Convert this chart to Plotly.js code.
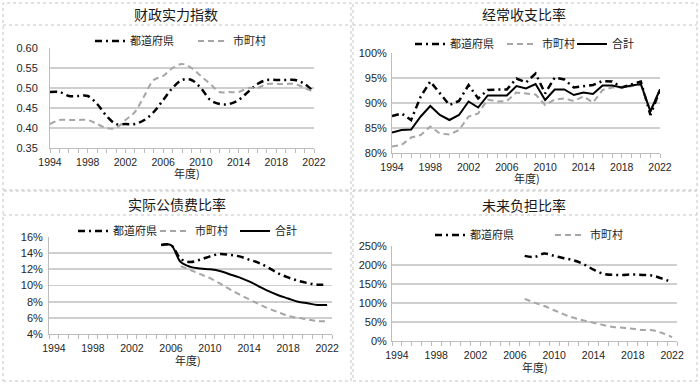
<!DOCTYPE html>
<html>
<head>
<meta charset="utf-8">
<script src="https://cdn.plot.ly/plotly-3.0.1.min.js"></script>
<style>html,body{margin:0;padding:0;background:#fff;}#chart{width:700px;height:385px;}</style>
</head>
<body>
<div id="chart"></div>
<script>
// ---- data ----
var years = [1994,1995,1996,1997,1998,1999,2000,2001,2002,2003,2004,2005,2006,2007,2008,2009,2010,2011,2012,2013,2014,2015,2016,2017,2018,2019,2020,2021,2022];
var tickYears = [1994,1998,2002,2006,2010,2014,2018,2022];
var seriesNames = ['都道府県','市町村','合計'];
var panelTitles = ['财政实力指数','经常收支比率','实际公债费比率','未来负担比率'];
var xTitle = '年度)';

// 财政实力指数
var fiPref = [0.49,0.49,0.48,0.48,0.48,0.46,0.43,0.41,0.41,0.41,0.42,0.44,0.47,0.50,0.52,0.52,0.50,0.47,0.46,0.46,0.47,0.49,0.51,0.52,0.52,0.52,0.52,0.51,0.49];
var fiMuni = [0.41,0.42,0.42,0.42,0.42,0.41,0.40,0.40,0.42,0.44,0.48,0.52,0.53,0.55,0.56,0.55,0.53,0.51,0.49,0.49,0.49,0.50,0.50,0.51,0.51,0.51,0.51,0.50,0.49];

// 经常收支比率 (%)
var ocPref  = [87.4,87.9,86.6,91.3,94.3,91.9,89.6,90.4,93.6,90.9,92.6,92.7,92.7,94.9,94.1,95.9,91.9,95.1,94.7,93.1,93.3,93.6,94.4,94.3,93.1,93.7,94.3,87.6,92.6];
var ocMuni  = [81.3,81.6,83.1,83.6,85.3,83.9,83.7,84.6,87.3,87.9,90.7,90.3,90.4,92.1,91.9,91.7,89.6,90.7,90.9,90.4,91.3,90.1,92.6,93.1,93.1,93.3,93.6,88.6,92.7];
var ocTotal = [84.1,84.6,84.7,87.3,89.4,87.6,86.6,87.6,90.3,89.1,91.5,91.5,91.5,93.4,92.9,93.8,90.6,92.7,92.7,91.6,92.1,91.8,93.5,93.5,93.1,93.5,93.8,88.3,92.7];

// 实际公债费比率 (%)
var dsPref  = [null,null,null,null,null,null,null,null,null,null,null,15.0,15.0,13.3,12.9,13.2,13.6,13.9,13.8,13.6,13.2,12.8,12.2,11.5,11.0,10.6,10.3,10.1,10.1];
var dsMuni  = [null,null,null,null,null,null,null,null,null,null,null,null,null,12.4,11.9,11.4,10.9,10.25,9.55,8.9,8.3,7.7,7.15,6.7,6.25,6.0,5.8,5.6,5.6];
var dsTotal = [null,null,null,null,null,null,null,null,null,null,null,15.0,15.0,12.9,12.3,12.1,12.0,11.8,11.4,11.0,10.5,9.9,9.3,8.8,8.4,8.0,7.8,7.6,7.6];

// 未来负担比率 (%)
var fbPref = [null,null,null,null,null,null,null,null,null,null,null,null,null,224,221,230,224,218,212,202,188,177,174,174,175,174,172,164,155];
var fbMuni = [null,null,null,null,null,null,null,null,null,null,null,null,null,111,101,92,81,70,61,54,48,42,37,35,32,29,28,21,10];

// ---- styling ----
var W = 700, H = 385;
function px(x){ return x / W; }
function py(y){ return 1 - y / H; }
var latin = 'Liberation Sans, Arial, sans-serif';
var cjkSC = 'Noto Sans CJK SC, sans-serif';
var cjkJP = 'Noto Sans CJK JP, sans-serif';
var prefLine  = {color:'#000000', width:2.5, dash:'7px,4px,2px,4px'};
var muniLine  = {color:'#a6a6a6', width:2, dash:'6px,4px'};
var totalLine = {color:'#000000', width:2};

function tr(y, name, line, xa, ya, leg, shape, lw){
  var t = {x:years, y:y, name:name, type:'scatter', mode:'lines',
    line:Object.assign({shape:shape, smoothing:1}, line),
    xaxis:xa, yaxis:ya, legend:leg, connectgaps:false, hoverinfo:'skip'};
  if (lw) t.legendwidth = lw;
  return t;
}

var data = [
  tr(fiPref, seriesNames[0], prefLine, 'x','y','legend','spline',58),
  tr(fiMuni, seriesNames[1], muniLine, 'x','y','legend','spline'),
  tr(ocPref, seriesNames[0], prefLine, 'x2','y2','legend2','linear',47),
  tr(ocMuni, seriesNames[1], muniLine, 'x2','y2','legend2','linear',25),
  tr(ocTotal, seriesNames[2], totalLine, 'x2','y2','legend2','linear'),
  tr(dsPref, seriesNames[0], prefLine, 'x3','y3','legend3','spline',37),
  tr(dsMuni, seriesNames[1], muniLine, 'x3','y3','legend3','spline',35),
  tr(dsTotal, seriesNames[2], totalLine, 'x3','y3','legend3','spline'),
  tr(fbPref, seriesNames[0], prefLine, 'x4','y4','legend4','spline',75),
  tr(fbMuni, seriesNames[1], muniLine, 'x4','y4','legend4','spline')
];

var axisCol = '#bdbdbd', gridCol = '#cfcfcf', tickFontX = {family:latin, size:10.5, color:'#262626'}, tickFontY = {family:latin, size:11, color:'#262626'};

function xOnTick(l, r, ya){
  return {domain:[px(l), px(r)], anchor:ya, range:[1994,2022], tickmode:'array', tickvals:tickYears,
    ticks:'outside', ticklen:4, tickcolor:axisCol, showline:true, linecolor:axisCol, linewidth:1,
    showgrid:false, zeroline:false, tickfont:tickFontX, fixedrange:true,
    minor:{tickmode:'linear', tick0:1994, dtick:1, ticks:'outside', ticklen:4, tickcolor:axisCol, showgrid:false}};
}
function xBetween(l, r, ya){
  return {domain:[px(l), px(r)], anchor:ya, range:[1993.5,2022.5], tickmode:'array', tickvals:tickYears,
    ticks:'outside', ticklen:4, tickcolor:'rgba(0,0,0,0)', showline:true, linecolor:axisCol, linewidth:1,
    showgrid:false, zeroline:false, tickfont:tickFontX, fixedrange:true,
    minor:{tickmode:'linear', tick0:1993.5, dtick:1, ticks:'outside', ticklen:4, tickcolor:axisCol, showgrid:false}};
}
function yAx(b, t, xa, range, dtick, fmt, suffix, standoff){
  return {domain:[py(b), py(t)], anchor:xa, range:range, dtick:dtick, tick0:range[0], tickformat:fmt, ticksuffix:suffix,
    ticks:'outside', ticklen:standoff, tickcolor:'rgba(0,0,0,0)', showline:true, linecolor:axisCol, linewidth:1,
    showgrid:true, gridcolor:gridCol, gridwidth:1.8, zeroline:false, tickfont:tickFontY, fixedrange:true};
}

function legendAt(x, y){
  return {orientation:'h', x:px(x), y:py(y), xanchor:'left', yanchor:'middle', bgcolor:'rgba(0,0,0,0)',
    font:{family:cjkJP, size:11, color:'#222'}, itemclick:false, itemdoubleclick:false, traceorder:'normal'};
}

function ann(text, x, y, font){
  return {text:text, x:px(x), y:py(y), xref:'paper', yref:'paper', showarrow:false, xanchor:'center', yanchor:'middle', font:font};
}
var titleFont = {family:cjkSC, size:14, color:'#1a1a1a'};
var xtFont = {family:cjkJP, size:11, color:'#262626'};

function rect(x0,y0,x1,y1){
  return {type:'rect', xref:'paper', yref:'paper', x0:px(x0), x1:px(x1), y0:py(y1), y1:py(y0),
    line:{color:'#c4c4c4', width:1, dash:'dot'}, fillcolor:'rgba(0,0,0,0)'};
}
function hline(x0,x1,y){
  return {type:'line', xref:'paper', yref:'paper', x0:px(x0), x1:px(x1), y0:py(y), y1:py(y),
    line:{color:'#c4c4c4', width:1, dash:'dot'}};
}

var layout = {
  width:W, height:H, margin:{l:0,r:0,t:0,b:0}, paper_bgcolor:'#fff', plot_bgcolor:'#fff',
  showlegend:true, font:{family:latin},
  xaxis: xOnTick(50, 314, 'y'),
  yaxis: yAx(148, 48, 'x', [0.35,0.60], 0.05, '.2f', '', 9),
  xaxis2: xOnTick(392, 660, 'y2'),
  yaxis2: yAx(153, 53, 'x2', [80,100], 5, 'd', '%', 2),
  xaxis3: xBetween(49, 332, 'y3'),
  yaxis3: yAx(334, 237, 'x3', [4,16], 2, 'd', '%', 3),
  xaxis4: xBetween(392, 677, 'y4'),
  yaxis4: yAx(341, 246, 'x4', [0,250], 50, 'd', '%', 2),
  legend: legendAt(90, 41),
  legend2: legendAt(410, 44),
  legend3: legendAt(73, 231),
  legend4: legendAt(430, 235),
  annotations:[
    ann(panelTitles[0], 176, 14, titleFont),
    ann(panelTitles[1], 524, 14, titleFont),
    ann(panelTitles[2], 177, 204, titleFont),
    ann(panelTitles[3], 524, 205, titleFont),
    ann(xTitle, 187, 173, xtFont),
    ann(xTitle, 527, 178, xtFont),
    ann(xTitle, 188, 360, xtFont),
    ann(xTitle, 535, 367, xtFont)
  ],
  shapes:[
    rect(3,3,351,190), hline(3,351,25),
    rect(353,3,697,190), hline(353,697,25),
    rect(3,191,351,381), hline(3,351,215),
    rect(353,191,697,381), hline(353,697,215)
  ]
};

Plotly.newPlot('chart', data, layout, {staticPlot:true, displayModeBar:false});
</script>
</body>
</html>
